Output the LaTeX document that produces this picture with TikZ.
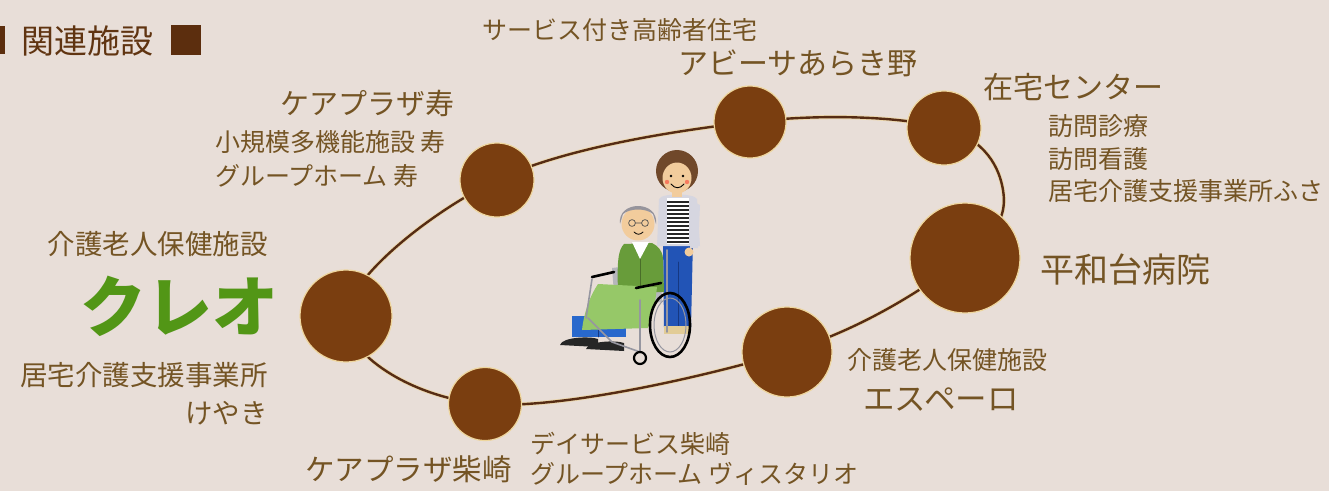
\documentclass[tikz,border=0pt]{standalone}
\usepackage{fontspec}
\setmainfont{Noto Sans CJK JP}
\usetikzlibrary{backgrounds}

\definecolor{paper}{RGB}{232,222,216}
\definecolor{dotbrown}{RGB}{122,62,16}
\definecolor{rimcream}{RGB}{238,214,158}
\definecolor{ringbrown}{RGB}{86,44,20}
\definecolor{labelbrown}{RGB}{116,84,36}
\definecolor{headbrown}{RGB}{92,46,14}
\definecolor{kureogreen}{RGB}{82,150,22}
\definecolor{skin}{RGB}{242,204,156}
\definecolor{hairbrown}{RGB}{112,72,42}
\definecolor{greyhair}{RGB}{150,148,156}
\definecolor{jeans}{RGB}{34,84,182}
\definecolor{jeansdark}{RGB}{22,56,130}
\definecolor{cardigan}{RGB}{214,214,224}
\definecolor{jacket}{RGB}{104,156,58}
\definecolor{blanket}{RGB}{150,200,104}
\definecolor{trousers}{RGB}{40,104,204}
\definecolor{chairframe}{RGB}{150,150,160}
\definecolor{shoebeige}{RGB}{226,204,150}

\newcommand{\fs}[1]{\fontsize{#1}{#1}\selectfont}

\begin{document}
\begin{tikzpicture}[x=1pt,y=-1pt,
  site/.style={circle, fill=dotbrown, draw=rimcream, line width=1.2pt, inner sep=0pt},
  lbl/.style={text=labelbrown, inner sep=0pt, anchor=west, font=\fs{25}},
  lblbig/.style={lbl, font=\fs{30}},
  ring/.style={draw=ringbrown, line width=2.4pt},
  ringhalo/.style={draw=rimcream!70!paper, line width=4.2pt}
]
\useasboundingbox (0,0) rectangle (1329,491);

% ---- heading ----
\node[fill=headbrown, minimum width=5pt, minimum height=28pt, inner sep=0pt, anchor=north west] (hbar) at (0,26) {};
\node[text=headbrown!85!labelbrown, inner sep=0pt, anchor=west, font=\fs{33}] (htitle) at (21,41) {関連施設};
\node[fill=headbrown, minimum size=30pt, inner sep=0pt, anchor=north west] (hsq) at (171,25) {};

% ---- facility dots ----
\node[site, minimum size=92pt] (kureo)     at (346,316) {};
\node[site, minimum size=74pt] (kotobuki)  at (497,180) {};
\node[site, minimum size=72pt] (abisa)     at (750,122) {};
\node[site, minimum size=74pt] (zaitaku)   at (944,128) {};
\node[site, minimum size=110pt] (heiwadai) at (965,258) {};
\node[site, minimum size=90pt] (espero)    at (787,352) {};
\node[site, minimum size=73pt] (shibasaki) at (485,404) {};
\coordinate (bulge) at (1003,190);

% ---- paper and the ring joining the dots ----
\begin{scope}[on background layer]
  \fill[paper] (0,0) rectangle (1329,491);
  \path[ringhalo] plot[smooth cycle, tension=0.6] coordinates
    {(kureo.center) (kotobuki.center) (abisa.center) (zaitaku.center)
     (bulge) (heiwadai.center) (espero.center) (shibasaki.center)};
  \path[ring] plot[smooth cycle, tension=0.6] coordinates
    {(kureo.center) (kotobuki.center) (abisa.center) (zaitaku.center)
     (bulge) (heiwadai.center) (espero.center) (shibasaki.center)};
\end{scope}

% ---- labels ----
\node[lbl] (abisasub) at (482,30) {サービス付き高齢者住宅};
\node[lblbig] (abisaname) at (678,63) {アビーサあらき野};

\node[lbl, font=\fs{29}] (kotoname) at (280,103) {ケアプラザ寿};
\node[lbl] (kotosub1) at (215,142) {小規模多機能施設 寿};
\node[lbl] (kotosub2) at (215,176) {グループホーム 寿};

\node[lblbig] (zainame) at (983,87) {在宅センター};
\node[lbl] (zaisub1) at (1048,126) {訪問診療};
\node[lbl] (zaisub2) at (1048,159) {訪問看護};
\node[lbl] (zaisub3) at (1048,191) {居宅介護支援事業所ふさ};

\node[lbl, font=\fs{34}] (heiname) at (1040,270) {平和台病院};

\node[lbl, anchor=east, font=\fs{27.5}] (kureosub) at (268,244) {介護老人保健施設};
\node[text=kureogreen, inner sep=0pt, font=\fs{66}\bfseries] (kureoname) at (179,306) {クレオ};
\node[lbl, anchor=east, font=\fs{27.5}] (kureosub2) at (268,375) {居宅介護支援事業所};
\node[lbl, anchor=east, font=\fs{27.5}] (kureosub3) at (268,413) {けやき};

\node[lbl] (espsub) at (847,360) {介護老人保健施設};
\node[lbl, font=\fs{31.5}] (espname) at (863,400) {エスペーロ};

\node[lbl, font=\fs{29.5}] (shibaname) at (305,469) {ケアプラザ柴崎};
\node[lbl] (shibasub1) at (530,444) {デイサービス柴崎};
\node[lbl] (shibasub2) at (530,474) {グループホーム ヴィスタリオ};

% ---- carer pushing a wheelchair ----
\begin{scope}[line join=round, line cap=round]
  % carer: trousers and shoes
  \fill[jeans] (663,238) -- (693,238) -- (691,328) -- (664,328) -- cycle;
  \draw[jeansdark, line width=0.8pt] (678,262) -- (678,328);
  \fill[shoebeige] (664,326) rectangle (690,334);
  % carer: cardigan and striped shirt
  \fill[cardigan] (659,199) .. controls (661,193) and (694,193) .. (697,199)
        -- (700,246) -- (657,246) -- cycle;
  \begin{scope}
    \clip (667,198) rectangle (689,244);
    \fill[white] (667,198) rectangle (689,244);
    \foreach \yy in {201,205,...,241} \fill[black!85] (667,\yy) rectangle (689,\yy+1.8);
  \end{scope}
  \fill[cardigan] (692,201) -- (700,205) -- (698,248) -- (690,248) -- cycle;
  \fill[skin] (689,252) circle (4.5);
  % carer: head
  \fill[skin] (672,188) rectangle (682,197);
  \fill[hairbrown] (677,171) circle (21);
  \fill[skin] (677,178) ellipse (14.5 and 15.5);
  \fill[black] (671,176) circle (1.4) (683,176) circle (1.4);
  \draw[black, line width=0.9pt] (671,184) .. controls (675,189) and (680,189) .. (684,184);
  \fill[red!40!skin] (667,182) circle (2.2) (687,182) circle (2.2);

  % wheelchair back
  \fill[chairframe!70!white] (612,268) -- (660,262) -- (662,302) -- (615,306) -- cycle;
  % passenger: jacket, collar, head
  \fill[jacket] (624,244) .. controls (618,250) and (617,262) .. (618,292)
        -- (664,292) -- (663,258) .. controls (662,250) and (658,246) .. (652,243) -- cycle;
  \draw[jacket!70!black, line width=0.6pt] (640,258) -- (640,290);
  \fill[white] (632,242) -- (649,242) -- (640,259) -- cycle;
  \fill[skin] (638,224) circle (16.5);
  \fill[greyhair] (620,224) .. controls (617,200) and (659,200) .. (656,224)
        -- (653,214) .. controls (646,208) and (630,208) .. (623,214) -- cycle;
  \draw[black!70, line width=0.7pt] (632,223) circle (3.4) (645,223) circle (3.4) (635.4,223) -- (641.6,223);
  \draw[black, line width=0.8pt] (634,232) .. controls (637,235) and (640,235) .. (643,232);
  % passenger: lap blanket, legs and shoes
  \fill[trousers] (572,316) rectangle (626,337);
  \draw[jeansdark, line width=0.8pt] (598,318) -- (598,337);
  \fill[blanket] (598,284) -- (657,287) .. controls (655,305) and (652,318) .. (648,328)
        -- (582,330) .. controls (584,312) and (590,296) .. (598,284) -- cycle;
  \fill[black!85] (560,345) .. controls (562,337) and (590,336) .. (598,339) -- (598,347) -- cycle;
  \fill[black!85] (586,349) .. controls (588,341) and (616,340) .. (624,343) -- (624,351) -- cycle;
  % wheelchair frame, armrests and wheels
  \draw[chairframe, line width=1.6pt] (592,279) -- (586,318) (588,318) -- (612,342) -- (640,352);
  \draw[chairframe, line width=1.6pt] (667,250) -- (667,332);
  \draw[chairframe, line width=1.4pt] (640,300) -- (640,352);
  \draw[black, line width=2.6pt] (592,277) -- (614,272);
  \draw[black, line width=2.6pt] (636,288) -- (661,283);
  \draw[black, line width=2.6pt] (670,325) ellipse (20 and 32);
  \draw[chairframe, line width=1pt] (670,325) ellipse (16 and 27);
  \draw[black, line width=2.2pt] (640,358) circle (6);
\end{scope}
\end{tikzpicture}
\end{document}
